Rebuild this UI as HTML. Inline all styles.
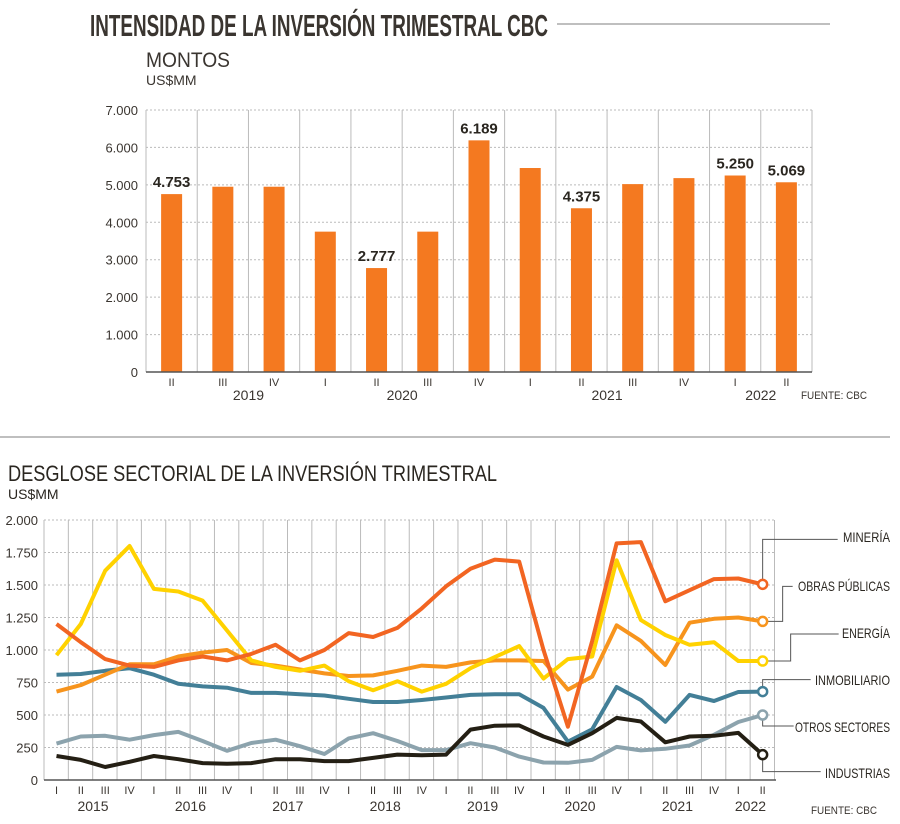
<!DOCTYPE html>
<html><head><meta charset="utf-8"><style>
html,body{margin:0;padding:0;background:#fff;width:900px;height:824px;overflow:hidden}
svg{display:block;font-family:"Liberation Sans Narrow","Liberation Sans",sans-serif}
</style></head><body>
<svg id="c" width="900" height="824" viewBox="0 0 900 824">
<text x="90" y="36" font-size="31" font-weight="bold" fill="#3a3530" textLength="458" lengthAdjust="spacingAndGlyphs">INTENSIDAD DE LA INVERSIÓN TRIMESTRAL CBC</text>
<line x1="557" y1="24" x2="830" y2="24" stroke="#aaa" stroke-width="1.5"/>
<text x="146" y="67" font-size="21" fill="#3a3530" textLength="84" lengthAdjust="spacingAndGlyphs">MONTOS</text>
<text x="146" y="85" font-size="14" fill="#3a3530">US$MM</text>
<text x="801" y="399" font-size="11" fill="#3a3530" textLength="66" lengthAdjust="spacingAndGlyphs">FUENTE: CBC</text>
<line x1="0" y1="437" x2="890" y2="437" stroke="#aaa" stroke-width="1.5"/>
<text x="8" y="481" font-size="22" fill="#2a2620" textLength="489" lengthAdjust="spacingAndGlyphs">DESGLOSE SECTORIAL DE LA INVERSIÓN TRIMESTRAL</text>
<text x="8" y="499" font-size="14" fill="#2a2620">US$MM</text>
<text x="811" y="814" font-size="11" fill="#3a3530" textLength="66" lengthAdjust="spacingAndGlyphs">FUENTE: CBC</text>
<g id="topg"></g><g id="botg"></g>
</svg>
<script>
// ---- top chart data
const barQuarters=["II","III","IV","I","II","III","IV","I","II","III","IV","I","II"];
const barValues=[4753,4950,4950,3750,2777,3750,6189,5450,4375,5020,5180,5250,5069];
const barLabels=["4.753","","","","2.777","","6.189","","4.375","","","5.250","5.069"];
const barYears=["2019","2020","2021","2022"];
const barYearIdx=[1.5,4.5,8.5,11.5];
const topTicks=[0,1000,2000,3000,4000,5000,6000,7000];
const topTickLabels=["0","1.000","2.000","3.000","4.000","5.000","6.000","7.000"];
// ---- bottom chart data
const lineYears=["2015","2016","2017","2018","2019","2020","2021","2022"];
const lineQuarters=["I","II","III","IV"];
const botTicks=[0,250,500,750,1000,1250,1500,1750,2000];
const botTickLabels=["0","250","500","750","1.000","1.250","1.500","1.750","2.000"];
const seriesNames=["MINERÍA","OBRAS PÚBLICAS","ENERGÍA","INMOBILIARIO","OTROS SECTORES","INDUSTRIAS"];
const mineria=[1200,1060,930,880,870,920,950,920,970,1040,920,1000,1130,1100,1170,1320,1490,1625,1695,1680,1000,410,1070,1820,1830,1375,1460,1545,1550,1505];
const obras=[680,730,810,890,890,950,980,1000,900,880,850,820,800,805,840,880,870,905,920,920,915,695,795,1190,1070,885,1210,1240,1250,1220];
const energia=[960,1200,1610,1800,1470,1450,1380,1150,920,870,840,880,760,690,760,680,740,860,945,1030,780,930,950,1690,1230,1115,1040,1060,915,915];
const inmob=[810,815,840,860,810,740,720,710,670,670,660,650,625,600,600,615,635,655,660,660,555,295,390,715,615,448,655,608,677,680];
const otros=[280,335,340,310,345,370,300,225,285,310,260,200,320,360,300,230,230,283,250,180,135,132,155,255,228,240,265,348,446,500];
const industrias=[185,155,100,140,185,160,130,125,130,160,160,145,145,170,195,190,195,388,418,420,335,270,360,478,450,290,335,340,362,195];
const seriesColors=["#f26522","#f7941d","#ffd200","#437f97","#8ca3ad","#241f14"];

const NS="http://www.w3.org/2000/svg";
function mk(p,tag,at,txt){const e=document.createElementNS(NS,tag);for(const k in at)e.setAttribute(k,at[k]);if(txt!==undefined)e.textContent=txt;p.appendChild(e);return e;}

// top axes
const T={x0:146,x1:812,y0:372,y1:110,max:7000};
const tx=i=>T.x0+(T.x1-T.x0)/barValues.length*(i+0.5);
const ty=v=>T.y0-(T.y0-T.y1)*v/T.max;
const topG=document.getElementById('topg');
const tstep=(T.x1-T.x0)/barValues.length;
for(let i=0;i<=barValues.length;i++){const l=mk(topG,'line',{x1:T.x0+tstep*i,x2:T.x0+tstep*i,y1:T.y1,y2:T.y0,stroke:'#bbb','stroke-width':1});

}
topTicks.forEach((v,i)=>{if(v>0){const g=mk(topG,'line',{x1:T.x0,x2:T.x1,y1:ty(v),y2:ty(v),stroke:'#bbb','stroke-dasharray':'2,2'});

}
const t=mk(topG,'text',{x:138,y:ty(v)+5,'font-size':13,'text-anchor':'end',fill:'#3a3530'},topTickLabels[i]);

});
barValues.forEach((v,i)=>{const b=mk(topG,'rect',{x:tx(i)-10.5,y:ty(v),width:21,height:T.y0-ty(v),fill:'#f47920'});


if(barLabels[i]){const t=mk(topG,'text',{x:tx(i),y:ty(v)-7,'font-size':15,'font-weight':'bold','text-anchor':'middle',fill:'#2a2620'},barLabels[i]);

}
const q=mk(topG,'text',{x:tx(i),y:386,'font-size':11,'text-anchor':'middle',fill:'#3a3530'},barQuarters[i]);

});
barYears.forEach((y,i)=>{const t=mk(topG,'text',{x:tx(barYearIdx[i]),y:400,'font-size':14,'text-anchor':'middle',fill:'#3a3530'},y);

});
const ta=mk(topG,'line',{x1:T.x0,x2:T.x1,y1:T.y0,y2:T.y0,stroke:'#555','stroke-width':1.5});



// bottom axes
const B={x0:44,x1:776,y0:780,y1:520,max:2000,n:30};
const bstep=24.35;
const bx=i=>56.5+bstep*i;
const by=v=>B.y0-(B.y0-B.y1)*v/B.max;
const botG=document.getElementById('botg');
for(let i=0;i<=B.n;i++){const x=Math.min(B.x0+bstep*i,B.x1);const l=mk(botG,'line',{x1:x,x2:x,y1:B.y1,y2:B.y0,stroke:'#bbb','stroke-width':1});

}
botTicks.forEach((v,i)=>{if(v>0){const g=mk(botG,'line',{x1:B.x0,x2:B.x1,y1:by(v),y2:by(v),stroke:'#bbb','stroke-dasharray':'2,2'});

}
const t=mk(botG,'text',{x:38,y:by(v)+5,'font-size':13,'text-anchor':'end',fill:'#3a3530'},botTickLabels[i]);

});
for(let i=0;i<B.n;i++){const q=mk(botG,'text',{x:bx(i),y:794,'font-size':11,'text-anchor':'middle',fill:'#3a3530'},lineQuarters[i%4]);

}
lineYears.forEach((y,k)=>{const c=k<7?bx(k*4+1.5):bx(k*4+0.5);const t=mk(botG,'text',{x:c,y:811,'font-size':14,'text-anchor':'middle',fill:'#3a3530'},y);

});
const ba=mk(botG,'line',{x1:B.x0,x2:B.x1,y1:B.y0,y2:B.y0,stroke:'#555','stroke-width':1.5});



const all=[mineria,obras,energia,inmob,otros,industrias];
const order=[4,3,1,2,0,5];
order.forEach(s=>{const d=all[s].map((v,i)=>(i?'L':'M')+bx(i).toFixed(1)+','+by(v).toFixed(1)).join(' ');
const p=mk(botG,'path',{d:d,fill:'none',stroke:seriesColors[s],'stroke-width':4,'stroke-linejoin':'round'});

});
// legend leaders
const leaders=[[[0,0],[0,-45],[75,-45]],[[0,0],[20,0],[20,-35],[30,-35]],[[0,0],[28,0],[28,-27],[76,-27]],[[0,0],[0,-12],[48,-12]],[[0,0],[0,11],[31,11]],[[0,0],[0,17],[58,17]]];
const labY=[542,591,638,685,732,778];
const labW=[47,92,48,75,95,65];
all.forEach((arr,s)=>{const last=arr.length-1;const cx=bx(last),cy=by(arr[last]);
const pts=leaders[s].map(p=>(cx+p[0])+','+(cy+p[1])).join(' ');
const l=mk(botG,'polyline',{points:pts,fill:'none',stroke:'#555','stroke-width':1});


const c=mk(botG,'circle',{cx:cx,cy:cy,r:4.5,fill:'#fff',stroke:seriesColors[s],'stroke-width':2.5});


const t=mk(botG,'text',{x:890-labW[s],y:labY[s],'font-size':14,fill:'#2a2620',textLength:labW[s],lengthAdjust:'spacingAndGlyphs'},seriesNames[s]);

});
</script>
</body></html>
